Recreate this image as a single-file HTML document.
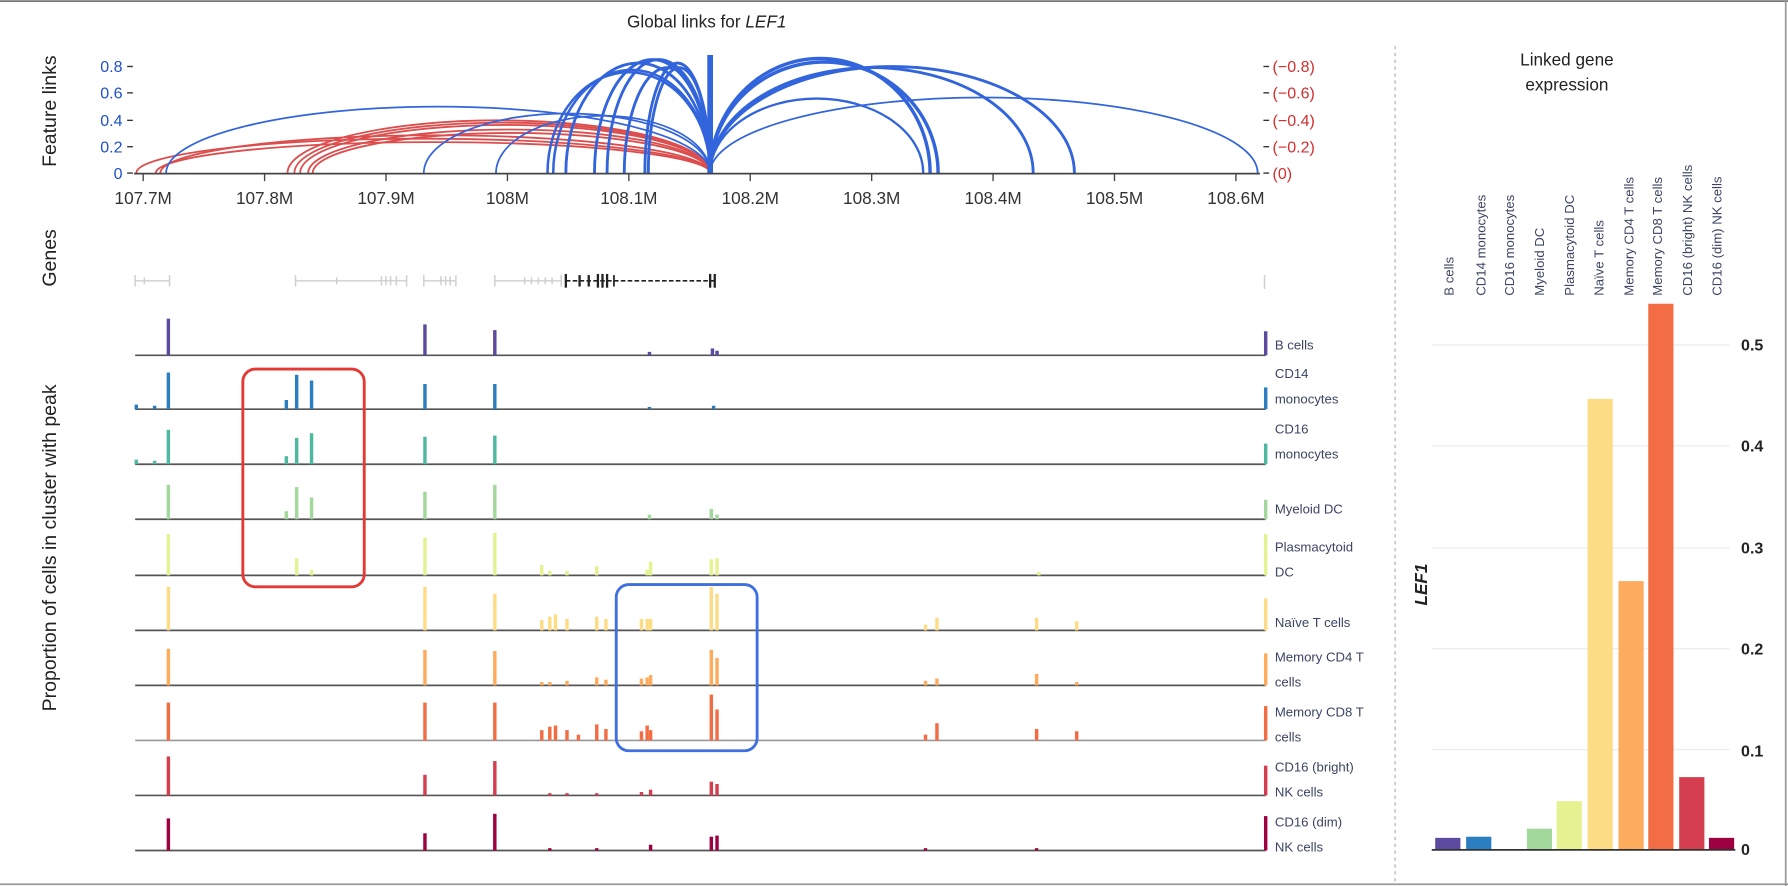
<!DOCTYPE html>
<html><head><meta charset="utf-8"><style>
html,body{margin:0;padding:0;background:#fff;}
svg{display:block;}
text{font-family:"Liberation Sans",sans-serif;}
</style></head><body>
<svg width="1788" height="886" viewBox="0 0 1561 773" preserveAspectRatio="none" xmlns="http://www.w3.org/2000/svg">
<rect x="0" y="0" width="1561" height="773" fill="#fff"/>
<line x1="0" y1="1" x2="1561" y2="1" stroke="#777" stroke-width="1.5"/>
<line x1="1559" y1="0" x2="1559" y2="773" stroke="#999" stroke-width="1.5"/>
<line x1="0" y1="771.5" x2="1561" y2="771.5" stroke="#999" stroke-width="1.5"/>

<text x="617" y="24" font-size="15" text-anchor="middle" fill="#222">Global links for <tspan font-style="italic">LEF1</tspan></text>
<text transform="translate(49,97) rotate(-90)" font-size="17" text-anchor="middle" fill="#222">Feature links</text>
<text transform="translate(49,225) rotate(-90)" font-size="17" text-anchor="middle" fill="#222">Genes</text>
<text transform="translate(49,478) rotate(-90)" font-size="17" text-anchor="middle" fill="#222">Proportion of cells in cluster with peak</text>

<g font-size="14" fill="#1f4fcf" text-anchor="end">
<text x="107" y="63">0.8</text><text x="107" y="86">0.6</text><text x="107" y="110">0.4</text><text x="107" y="133">0.2</text><text x="107" y="156">0</text>
</g>
<g stroke="#333" stroke-width="1.2">
<line x1="111" y1="58" x2="116" y2="58"/><line x1="111" y1="81" x2="116" y2="81"/><line x1="111" y1="105" x2="116" y2="105"/><line x1="111" y1="128" x2="116" y2="128"/><line x1="111" y1="151" x2="116" y2="151"/>
<line x1="1103" y1="58" x2="1108" y2="58"/><line x1="1103" y1="81" x2="1108" y2="81"/><line x1="1103" y1="105" x2="1108" y2="105"/><line x1="1103" y1="128" x2="1108" y2="128"/><line x1="1103" y1="151" x2="1108" y2="151"/>
</g>
<g font-size="14" fill="#d32f2f">
<text x="1111" y="63">(−0.8)</text><text x="1111" y="86">(−0.6)</text><text x="1111" y="110">(−0.4)</text><text x="1111" y="133">(−0.2)</text><text x="1111" y="156">(0)</text>
</g>

<!-- red arcs -->
<g fill="none" stroke="#d93b3b" stroke-width="1.6" opacity="0.9">
<path d="M119 151 A250.5 30 0 0 1 620 151"/>
<path d="M136 151 A242 27 0 0 1 620 151"/>
<path d="M140 151 A240 33 0 0 1 620 151"/>
<path d="M251 151 A184.5 46 0 0 1 620 151"/>
<path d="M257 151 A181.5 44 0 0 1 620 151"/>
<path d="M262 151 A179 42 0 0 1 620 151"/>
<path d="M269 151 A175.5 38 0 0 1 620 151"/>
<path d="M273 151 A173.5 35 0 0 1 620 151"/>
</g>
<!-- blue arcs -->
<g fill="none" stroke="#3264dc">
<path d="M145 151 A237.5 58 0 0 1 620 151" stroke-width="1.5"/>
<path d="M370 151 A125 52 0 0 1 620 151" stroke-width="1.5"/>
<path d="M433 151 A93.5 50 0 0 1 620 151" stroke-width="1.5"/>
<path d="M478 151 A71 88 0 0 1 620 151" stroke-width="2.2"/>
<path d="M483 151 A68.5 90 0 0 1 620 151" stroke-width="2.2"/>
<path d="M494 151 A63 96 0 0 1 620 151" stroke-width="2.5"/>
<path d="M519 151 A50.5 99 0 0 1 620 151" stroke-width="2.5"/>
<path d="M530 151 A45 99 0 0 1 620 151" stroke-width="2.5"/>
<path d="M545 151 A37.5 92 0 0 1 620 151" stroke-width="2.5"/>
<path d="M563 151 A28.5 96 0 0 1 620 151" stroke-width="2.5"/>
<path d="M566 151 A27 92 0 0 1 620 151" stroke-width="2.5"/>
<path d="M620 151 A93 65 0 0 1 806 151" stroke-width="2"/>
<path d="M620 151 A96 100 0 0 1 812 151" stroke-width="3"/>
<path d="M620 151 A99.5 97 0 0 1 819 151" stroke-width="3"/>
<path d="M620 151 A141 92 0 0 1 902 151" stroke-width="2.5"/>
<path d="M620 151 A159 93 0 0 1 938 151" stroke-width="2.5"/>
<path d="M620 151 A239 66 0 0 1 1098 151" stroke-width="1.5"/>
<line x1="620" y1="151" x2="620" y2="48" stroke-width="5"/>
</g>

<!-- x axis -->
<line x1="117" y1="151.5" x2="1100" y2="151.5" stroke="#444" stroke-width="1.5"/>
<g stroke="#444" stroke-width="1.2">
<line x1="125" y1="152" x2="125" y2="158"/><line x1="231" y1="152" x2="231" y2="158"/><line x1="337" y1="152" x2="337" y2="158"/><line x1="443" y1="152" x2="443" y2="158"/><line x1="549" y1="152" x2="549" y2="158"/><line x1="655" y1="152" x2="655" y2="158"/><line x1="761" y1="152" x2="761" y2="158"/><line x1="867" y1="152" x2="867" y2="158"/><line x1="973" y1="152" x2="973" y2="158"/><line x1="1079" y1="152" x2="1079" y2="158"/>
</g>
<g font-size="15" fill="#333" text-anchor="middle">
<text x="125" y="178">107.7M</text><text x="231" y="178">107.8M</text><text x="337" y="178">107.9M</text><text x="443" y="178">108M</text><text x="549" y="178">108.1M</text><text x="655" y="178">108.2M</text><text x="761" y="178">108.3M</text><text x="867" y="178">108.4M</text><text x="973" y="178">108.5M</text><text x="1079" y="178">108.6M</text>
</g>

<!-- genes -->
<g stroke="#cfcfcf" stroke-width="1.3">
<line x1="118" y1="245" x2="148" y2="245"/><line x1="118" y1="240" x2="118" y2="250"/><line x1="148" y1="240" x2="148" y2="250"/><line x1="126" y1="242" x2="126" y2="248"/>
<line x1="258" y1="245" x2="355" y2="245"/><line x1="258" y1="240" x2="258" y2="250"/><line x1="294" y1="242" x2="294" y2="248"/><line x1="333" y1="241" x2="333" y2="249"/><line x1="337" y1="241" x2="337" y2="249"/><line x1="341" y1="241" x2="341" y2="249"/><line x1="346" y1="241" x2="346" y2="249"/><line x1="355" y1="240" x2="355" y2="250"/>
<line x1="370" y1="245" x2="398" y2="245"/><line x1="370" y1="240" x2="370" y2="250"/><line x1="385" y1="241" x2="385" y2="249"/><line x1="389" y1="241" x2="389" y2="249"/><line x1="393" y1="241" x2="393" y2="249"/><line x1="398" y1="240" x2="398" y2="250"/>
<line x1="432" y1="245" x2="490" y2="245"/><line x1="432" y1="240" x2="432" y2="250"/><line x1="458" y1="242" x2="458" y2="248"/><line x1="464" y1="242" x2="464" y2="248"/><line x1="470" y1="242" x2="470" y2="248"/><line x1="476" y1="242" x2="476" y2="248"/><line x1="482" y1="242" x2="482" y2="248"/><line x1="490" y1="240" x2="490" y2="250"/>
<line x1="1104" y1="240" x2="1104" y2="252"/>
</g>
<g stroke="#222" stroke-width="1.5">
<line x1="494" y1="245" x2="624" y2="245" stroke-dasharray="4,2"/>
<line x1="494" y1="239" x2="494" y2="251" stroke-width="2"/>
<line x1="506" y1="240" x2="506" y2="250" stroke-width="2"/><line x1="514" y1="240" x2="514" y2="250" stroke-width="2"/>
<line x1="522" y1="239" x2="522" y2="251" stroke-width="2"/><line x1="526" y1="239" x2="526" y2="251" stroke-width="2"/><line x1="530" y1="239" x2="530" y2="251" stroke-width="2"/>
<line x1="536" y1="240" x2="536" y2="250"/>
<line x1="620" y1="239" x2="620" y2="251" stroke-width="2"/><line x1="624" y1="239" x2="624" y2="251" stroke-width="2"/>
</g>

<!-- tracks -->
<g stroke-width="3">
<line x1="118" y1="310" x2="1105" y2="310" stroke="#555" stroke-width="1.5"/>
<g stroke="#5b4a9e"><line x1="147" y1="310" x2="147" y2="278"/><line x1="371" y1="310" x2="371" y2="283"/><line x1="432" y1="310" x2="432" y2="288"/><line x1="567" y1="310" x2="567" y2="307"/><line x1="622" y1="310" x2="622" y2="304"/><line x1="626" y1="310" x2="626" y2="306"/><line x1="1105" y1="310" x2="1105" y2="289"/></g>
<line x1="118" y1="357" x2="1105" y2="357" stroke="#555" stroke-width="1.5"/>
<g stroke="#2b7ec0"><line x1="119" y1="357" x2="119" y2="353"/><line x1="135" y1="357" x2="135" y2="354"/><line x1="147" y1="357" x2="147" y2="325"/><line x1="250" y1="357" x2="250" y2="349"/><line x1="259" y1="357" x2="259" y2="327"/><line x1="272" y1="357" x2="272" y2="332"/><line x1="371" y1="357" x2="371" y2="335"/><line x1="432" y1="357" x2="432" y2="335"/><line x1="567" y1="357" x2="567" y2="355"/><line x1="623" y1="357" x2="623" y2="354"/><line x1="1105" y1="357" x2="1105" y2="338"/></g>
<line x1="118" y1="405" x2="1105" y2="405" stroke="#555" stroke-width="1.5"/>
<g stroke="#4fb8a0"><line x1="119" y1="405" x2="119" y2="401"/><line x1="135" y1="405" x2="135" y2="402"/><line x1="147" y1="405" x2="147" y2="375"/><line x1="250" y1="405" x2="250" y2="398"/><line x1="259" y1="405" x2="259" y2="382"/><line x1="272" y1="405" x2="272" y2="378"/><line x1="371" y1="405" x2="371" y2="381"/><line x1="432" y1="405" x2="432" y2="380"/><line x1="1105" y1="405" x2="1105" y2="387"/></g>
<line x1="118" y1="453" x2="1105" y2="453" stroke="#555" stroke-width="1.5"/>
<g stroke="#a2d89b"><line x1="147" y1="453" x2="147" y2="423"/><line x1="250" y1="453" x2="250" y2="446"/><line x1="259" y1="453" x2="259" y2="425"/><line x1="272" y1="453" x2="272" y2="434"/><line x1="371" y1="453" x2="371" y2="429"/><line x1="432" y1="453" x2="432" y2="423"/><line x1="567" y1="453" x2="567" y2="449"/><line x1="621" y1="453" x2="621" y2="444"/><line x1="626" y1="453" x2="626" y2="449"/><line x1="1105" y1="453" x2="1105" y2="436"/></g>
<line x1="118" y1="502" x2="1105" y2="502" stroke="#555" stroke-width="1.5"/>
<g stroke="#e4f291"><line x1="147" y1="502" x2="147" y2="466"/><line x1="259" y1="502" x2="259" y2="487"/><line x1="272" y1="502" x2="272" y2="497"/><line x1="371" y1="502" x2="371" y2="469"/><line x1="432" y1="502" x2="432" y2="465"/><line x1="473" y1="502" x2="473" y2="493"/><line x1="480" y1="502" x2="480" y2="498"/><line x1="495" y1="502" x2="495" y2="498"/><line x1="521" y1="502" x2="521" y2="494"/><line x1="565" y1="502" x2="565" y2="497"/><line x1="568" y1="502" x2="568" y2="490"/><line x1="621" y1="502" x2="621" y2="488"/><line x1="626" y1="502" x2="626" y2="487"/><line x1="907" y1="502" x2="907" y2="499"/><line x1="1105" y1="502" x2="1105" y2="466"/></g>
<line x1="118" y1="550" x2="1105" y2="550" stroke="#555" stroke-width="1.5"/>
<g stroke="#fddc86"><line x1="147" y1="550" x2="147" y2="512"/><line x1="371" y1="550" x2="371" y2="512"/><line x1="432" y1="550" x2="432" y2="518"/><line x1="473" y1="550" x2="473" y2="541"/><line x1="480" y1="550" x2="480" y2="538"/><line x1="485" y1="550" x2="485" y2="536"/><line x1="495" y1="550" x2="495" y2="540"/><line x1="521" y1="550" x2="521" y2="538"/><line x1="529" y1="550" x2="529" y2="540"/><line x1="560" y1="550" x2="560" y2="540"/><line x1="565" y1="550" x2="565" y2="540"/><line x1="568" y1="550" x2="568" y2="540"/><line x1="621" y1="550" x2="621" y2="512"/><line x1="626" y1="550" x2="626" y2="518"/><line x1="808" y1="550" x2="808" y2="545"/><line x1="818" y1="550" x2="818" y2="539"/><line x1="905" y1="550" x2="905" y2="539"/><line x1="940" y1="550" x2="940" y2="542"/><line x1="1105" y1="550" x2="1105" y2="522"/></g>
<line x1="118" y1="598" x2="1105" y2="598" stroke="#555" stroke-width="1.5"/>
<g stroke="#fdab5c"><line x1="147" y1="598" x2="147" y2="566"/><line x1="371" y1="598" x2="371" y2="567"/><line x1="432" y1="598" x2="432" y2="568"/><line x1="473" y1="598" x2="473" y2="595"/><line x1="480" y1="598" x2="480" y2="595"/><line x1="495" y1="598" x2="495" y2="594"/><line x1="521" y1="598" x2="521" y2="591"/><line x1="529" y1="598" x2="529" y2="593"/><line x1="560" y1="598" x2="560" y2="592"/><line x1="565" y1="598" x2="565" y2="591"/><line x1="568" y1="598" x2="568" y2="589"/><line x1="621" y1="598" x2="621" y2="567"/><line x1="626" y1="598" x2="626" y2="574"/><line x1="808" y1="598" x2="808" y2="594"/><line x1="818" y1="598" x2="818" y2="592"/><line x1="905" y1="598" x2="905" y2="588"/><line x1="940" y1="598" x2="940" y2="595"/><line x1="1105" y1="598" x2="1105" y2="570"/></g>
<line x1="118" y1="646" x2="1105" y2="646" stroke="#999" stroke-width="1.5"/>
<g stroke="#f26d43"><line x1="147" y1="646" x2="147" y2="613"/><line x1="371" y1="646" x2="371" y2="613"/><line x1="432" y1="646" x2="432" y2="613"/><line x1="473" y1="646" x2="473" y2="637"/><line x1="480" y1="646" x2="480" y2="634"/><line x1="485" y1="646" x2="485" y2="633"/><line x1="495" y1="646" x2="495" y2="637"/><line x1="505" y1="646" x2="505" y2="641"/><line x1="521" y1="646" x2="521" y2="632"/><line x1="529" y1="646" x2="529" y2="636"/><line x1="560" y1="646" x2="560" y2="638"/><line x1="565" y1="646" x2="565" y2="633"/><line x1="568" y1="646" x2="568" y2="637"/><line x1="621" y1="646" x2="621" y2="606"/><line x1="626" y1="646" x2="626" y2="619"/><line x1="808" y1="646" x2="808" y2="641"/><line x1="818" y1="646" x2="818" y2="631"/><line x1="905" y1="646" x2="905" y2="636"/><line x1="940" y1="646" x2="940" y2="638"/><line x1="1105" y1="646" x2="1105" y2="616"/></g>
<line x1="118" y1="694" x2="1105" y2="694" stroke="#555" stroke-width="1.5"/>
<g stroke="#d53e4f"><line x1="147" y1="694" x2="147" y2="660"/><line x1="371" y1="694" x2="371" y2="676"/><line x1="432" y1="694" x2="432" y2="664"/><line x1="480" y1="694" x2="480" y2="692"/><line x1="495" y1="694" x2="495" y2="692"/><line x1="521" y1="694" x2="521" y2="692"/><line x1="560" y1="694" x2="560" y2="691"/><line x1="568" y1="694" x2="568" y2="689"/><line x1="621" y1="694" x2="621" y2="682"/><line x1="626" y1="694" x2="626" y2="684"/><line x1="1105" y1="694" x2="1105" y2="668"/></g>
<line x1="118" y1="742" x2="1105" y2="742" stroke="#555" stroke-width="1.5"/>
<g stroke="#9e0142"><line x1="147" y1="742" x2="147" y2="714"/><line x1="371" y1="742" x2="371" y2="727"/><line x1="432" y1="742" x2="432" y2="710"/><line x1="480" y1="742" x2="480" y2="740"/><line x1="521" y1="742" x2="521" y2="740"/><line x1="568" y1="742" x2="568" y2="737"/><line x1="621" y1="742" x2="621" y2="730"/><line x1="626" y1="742" x2="626" y2="729"/><line x1="808" y1="742" x2="808" y2="740"/><line x1="905" y1="742" x2="905" y2="740"/><line x1="1105" y1="742" x2="1105" y2="712"/></g>
</g>

<g font-size="11.5" fill="#3b4463">
<text x="1113" y="305">B cells</text>
<text x="1113" y="330">CD14</text><text x="1113" y="352">monocytes</text>
<text x="1113" y="378">CD16</text><text x="1113" y="400">monocytes</text>
<text x="1113" y="448">Myeloid DC</text>
<text x="1113" y="481">Plasmacytoid</text><text x="1113" y="503">DC</text>
<text x="1113" y="547">Naïve T cells</text>
<text x="1113" y="577">Memory CD4 T</text><text x="1113" y="599">cells</text>
<text x="1113" y="625">Memory CD8 T</text><text x="1113" y="647">cells</text>
<text x="1113" y="673">CD16 (bright)</text><text x="1113" y="695">NK cells</text>
<text x="1113" y="721">CD16 (dim)</text><text x="1113" y="743">NK cells</text>
</g>

<rect x="212" y="322" width="106" height="190" rx="11" fill="none" stroke="#e53935" stroke-width="2.5"/>
<rect x="538" y="510" width="123" height="145" rx="11" fill="none" stroke="#3f6fe0" stroke-width="2.5"/>

<!-- right panel -->
<line x1="1218" y1="40" x2="1218" y2="770" stroke="#bbb" stroke-width="1.2" stroke-dasharray="3,3"/>
<text x="1368" y="57" font-size="15" text-anchor="middle" fill="#222">Linked gene</text>
<text x="1368" y="79" font-size="15" text-anchor="middle" fill="#222">expression</text>
<g font-size="11.5" fill="#3b4463">
<text transform="translate(1269,258) rotate(-90)">B cells</text>
<text transform="translate(1297,258) rotate(-90)">CD14 monocytes</text>
<text transform="translate(1322,258) rotate(-90)">CD16 monocytes</text>
<text transform="translate(1348,258) rotate(-90)">Myeloid DC</text>
<text transform="translate(1374,258) rotate(-90)">Plasmacytoid DC</text>
<text transform="translate(1400,258) rotate(-90)">Naïve T cells</text>
<text transform="translate(1426,258) rotate(-90)">Memory CD4 T cells</text>
<text transform="translate(1451,258) rotate(-90)">Memory CD8 T cells</text>
<text transform="translate(1477,258) rotate(-90)">CD16 (bright) NK cells</text>
<text transform="translate(1503,258) rotate(-90)">CD16 (dim) NK cells</text>
</g>
<g stroke="#ececec" stroke-width="1">
<line x1="1250" y1="301" x2="1510" y2="301"/><line x1="1250" y1="389" x2="1510" y2="389"/><line x1="1250" y1="478" x2="1510" y2="478"/><line x1="1250" y1="566" x2="1510" y2="566"/><line x1="1250" y1="654" x2="1510" y2="654"/>
</g>
<g>
<rect x="1253" y="731" width="22" height="10" fill="#5b4a9e"/>
<rect x="1280" y="730" width="22" height="11" fill="#2b7ec0"/>
<rect x="1333" y="723" width="22" height="18" fill="#a2d89b"/>
<rect x="1359" y="699" width="22" height="42" fill="#e4f291"/>
<rect x="1386" y="348" width="22" height="393" fill="#fddc86"/>
<rect x="1413" y="507" width="22" height="234" fill="#fdab5c"/>
<rect x="1439" y="265" width="22" height="476" fill="#f26d43"/>
<rect x="1466" y="678" width="22" height="63" fill="#d53e4f"/>
<rect x="1492" y="731" width="22" height="10" fill="#9e0142"/>
</g>
<line x1="1250" y1="741.5" x2="1515" y2="741.5" stroke="#333" stroke-width="1.5"/>
<g font-size="14" font-weight="bold" fill="#222">
<text x="1520" y="306">0.5</text><text x="1520" y="394">0.4</text><text x="1520" y="483">0.3</text><text x="1520" y="571">0.2</text><text x="1520" y="660">0.1</text><text x="1520" y="746">0</text>
</g>
<text transform="translate(1246,510) rotate(-90)" font-size="15" font-style="italic" font-weight="bold" text-anchor="middle" fill="#222">LEF1</text>
</svg>
</body></html>
